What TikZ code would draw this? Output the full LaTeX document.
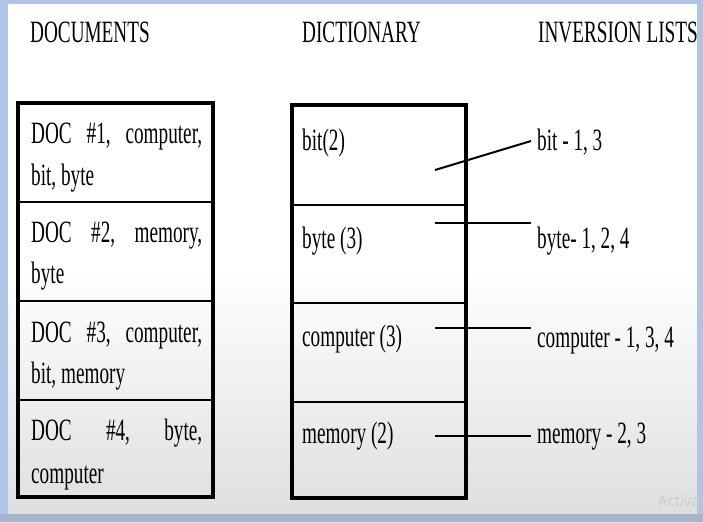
\documentclass[tikz,border=0pt]{standalone}
\usepackage{fontspec}
\setmainfont[FakeStretch=0.62]{Liberation Serif}
\newfontfamily\wmfont{Open Sans}
\definecolor{framebl}{RGB}{176,196,232}
\definecolor{framebot}{RGB}{168,180,204}
\begin{document}
\begin{tikzpicture}[x=1pt,y=-1pt]
\tikzset{
  box/.style={line width=4pt},
  div/.style={line width=2.5pt},
  txt/.style={anchor=base west, inner sep=0pt, font=\fontsize{31}{37}\selectfont},
  conn/.style={line width=2pt},
}
\useasboundingbox (0,0) rectangle (703,522);
% background
\fill[white] (0,0) rectangle (703,522);
\shade[top color=white, bottom color=black!13] (0,270) rectangle (703,522);
% headers
\node[txt] (h1) at (30,42) {DOCUMENTS};
\node[txt] (h2) at (302,42) {DICTIONARY};
\node[txt] (h3) at (538,42) {INVERSION LISTS};
% documents box
\draw[box] (18,103) rectangle (213,497);
\draw[div] (18,202) -- (213,202);
\draw[div] (18,301) -- (213,301);
\draw[div] (18,400) -- (213,400);
\node[txt] (d1a) at (31,143) {\hbox to 171pt{DOC\hfill\#1,\hfill computer,}};
\node[txt] (d1b) at (31,185) {bit, byte};
\node[txt] (d2a) at (31,242) {\hbox to 171pt{DOC\hfill\#2,\hfill memory,}};
\node[txt] (d2b) at (31,283) {byte};
\node[txt] (d3a) at (31,342) {\hbox to 171pt{DOC\hfill\#3,\hfill computer,}};
\node[txt] (d3b) at (31,383) {bit, memory};
\node[txt] (d4a) at (31,440) {\hbox to 171pt{DOC\hfill\#4,\hfill byte,}};
\node[txt] (d4b) at (31,483) {computer};
% dictionary box
\draw[box] (292,105) rectangle (466,498);
\draw[div] (292,205) -- (466,205);
\draw[div] (292,303) -- (466,303);
\draw[div] (292,402) -- (466,402);
\node[txt] (w1) at (302,150) {bit(2)};
\node[txt] (w2) at (302,248) {byte (3)};
\node[txt] (w3) at (302,346) {computer (3)};
\node[txt] (w4) at (302,443) {memory (2)};
% inversion lists
\node[txt] (i1) at (537,150) {bit - 1, 3};
\node[txt] (i2) at (537,248) {byte- 1, 2, 4};
\node[txt] (i3) at (537,347) {computer - 1, 3, 4};
\node[txt] (i4) at (537,443) {memory - 2, 3};
% connectors
\coordinate (s1) at (435,170); \coordinate (e1) at (531,141);
\coordinate (s2) at (435,223); \coordinate (e2) at (531,223);
\coordinate (s3) at (435,328); \coordinate (e3) at (531,328);
\coordinate (s4) at (435,436); \coordinate (e4) at (531,436);
\draw[conn] (s1) -- (e1);
\draw[conn] (s2) -- (e2);
\draw[conn] (s3) -- (e3);
\draw[conn] (s4) -- (e4);
% frame
\fill[framebl] (0,0) rectangle (8,522);
\fill[framebl] (0,0) rectangle (703,4);
\fill[framebl] (697,0) rectangle (703,522);
\fill[framebot] (0,514) rectangle (703,522);
% watermark
\node[anchor=base east, inner sep=0pt, text=black!20, font=\wmfont\fontsize{15}{18}\selectfont] (wm) at (700,506) {Activa};
\end{tikzpicture}
\end{document}
